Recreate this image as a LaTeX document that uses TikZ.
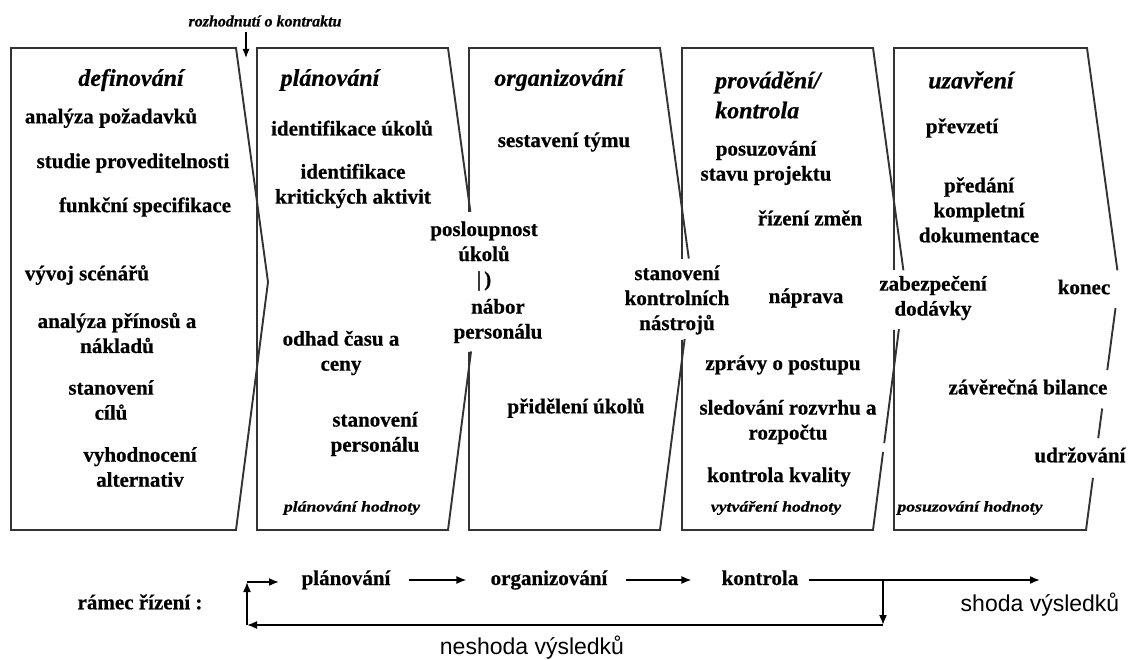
\documentclass[tikz,border=0pt]{standalone}
\usepackage{fontspec}
\usepackage{graphicx}
\setmainfont{Liberation Serif}[BoldFeatures={FakeBold=0.6}, BoldItalicFeatures={FakeBold=0.6}]
\newfontfamily\labelsans{Liberation Sans}
\usetikzlibrary{arrows.meta,calc}

\newcommand{\stretched}[1]{\scalebox{1.18}[1]{#1}}

\begin{document}
\begin{tikzpicture}[x=1pt,y=-1pt,
  edge/.style={line width=1.9pt, draw=black!80, line join=miter},
  item/.style={font=\fontsize{21}{25}\selectfont\bfseries, align=center, inner sep=0pt},
  phase/.style={font=\fontsize{24}{30}\selectfont\bfseries\itshape, inner sep=0pt},
  valuetag/.style={font=\fontsize{15}{18}\selectfont\bfseries\itshape, inner sep=0pt},
  sanslabel/.style={font=\fontsize{23}{27}\selectfont\labelsans, inner sep=0pt},
  flow/.style={line width=1.6pt, -{Latex[length=10pt,width=8pt]}},
]
\useasboundingbox (0,0) rectangle (1128,660);

% ---- phase outlines (chevron right sides; some edges are interrupted by labels)
\draw[edge] (236,48) -- (11,48) -- (11,530) -- (236,530) -- (268,282) -- cycle;

\coordinate (T2) at (448,48);  \coordinate (P2) at (480,282);  \coordinate (B2) at (448,530);
\draw[edge] ($(T2)!0.70!(P2)$) -- (T2) -- (257,48) -- (257,530) -- (B2) -- ($(P2)!0.28!(B2)$);

\coordinate (T3) at (660,48);  \coordinate (P3) at (692,282);  \coordinate (B3) at (660,530);
\draw[edge] ($(T3)!0.90!(P3)$) -- (T3) -- (469,48) -- (469,212);
\draw[edge] (469,352) -- (469,530) -- (B3) -- ($(P3)!0.23!(B3)$);

\coordinate (T4) at (873,48);  \coordinate (P4) at (905,282);  \coordinate (B4) at (873,530);
\draw[edge] ($(T4)!0.95!(P4)$) -- (T4) -- (682,48) -- (682,259);
\draw[edge] (682,340) -- (682,530) -- (B4) -- ($(P4)!0.685!(B4)$);
\draw[edge] ($(P4)!0.19!(B4)$) -- ($(P4)!0.65!(B4)$);

\coordinate (T5) at (1087,48); \coordinate (P5) at (1119,282); \coordinate (B5) at (1086,530);
\draw[edge] ($(T5)!0.95!(P5)$) -- (T5) -- (894,48) -- (894,270);
\draw[edge] (894,330) -- (894,530) -- (B5) -- ($(P5)!0.79!(B5)$);
\draw[edge] ($(P5)!0.105!(B5)$) -- ($(P5)!0.355!(B5)$);
\draw[edge] ($(P5)!0.51!(B5)$) -- ($(P5)!0.63!(B5)$);

% ---- contract decision
\node[valuetag, font=\fontsize{16}{19}\selectfont\bfseries\itshape] (rk) at (265,21) {rozhodnutí o kontraktu};
\coordinate (rkTip) at (246,58);
\draw[line width=1.2pt, -{Latex[length=9pt,width=7pt]}, shorten <=5pt] (rk.south -| rkTip) -- (rkTip);

% ---- phase titles
\node[phase] (t1) at (131,80) {definování};
\node[phase] (t2) at (330,80) {plánování};
\node[phase] (t3) at (559,80) {organizování};
\node[phase, align=left, anchor=west] (t4) at (715,95) {provádění/\\kontrola};
\node[phase] (t5) at (971,80) {uzavření};

% ---- definition phase
\node[item] (a1) at (111,118) {analýza požadavků};
\node[item] (a2) at (133,163) {studie proveditelnosti};
\node[item] (a3) at (145,207) {funkční specifikace};
\node[item] (a4) at (87,275) {vývoj scénářů};
\node[item] (a5) at (117,333) {analýza přínosů a\\nákladů};
\node[item] (a6) at (111,400) {stanovení\\cílů};
\node[item] (a7) at (140,467) {vyhodnocení\\alternativ};

% ---- planning phase
\node[item] (b1) at (352,128) {identifikace úkolů};
\node[item] (b2) at (353,186) {identifikace\\kritických aktivit};
\node[item] (b3) at (484,256) {posloupnost\\úkolů\\|\kern3pt)};
\node[item] (b4) at (498,321) {nábor\\personálu};
\node[item] (b5) at (341,353) {odhad času a\\ceny};
\node[item] (b6) at (375,434) {stanovení\\personálu};
\node[valuetag] (b7) at (352,508) {\stretched{plánování hodnoty}};

% ---- organising phase
\node[item] (c1) at (564,142) {sestavení týmu};
\node[item] (c2) at (677,300) {stanovení\\kontrolních\\nástrojů};
\node[item] (c3) at (576,408) {přidělení úkolů};

% ---- execution / control phase
\node[item] (d1) at (766,163) {posuzování\\stavu projektu};
\node[item] (d2) at (810,218) {řízení změn};
\node[item] (d3) at (806,298) {náprava};
\node[item] (d4) at (783,365) {zprávy o postupu};
\node[item] (d5) at (788,422) {sledování rozvrhu a\\rozpočtu};
\node[item] (d6) at (779,477) {kontrola kvality};
\node[valuetag] (d7) at (776,508) {\stretched{vytváření hodnoty}};
\node[item] (d8) at (933,298) {zabezpečení\\dodávky};

% ---- closing phase
\node[item] (e1) at (962,128) {převzetí};
\node[item] (e2) at (979,210) {předání\\kompletní\\dokumentace};
\node[item] (e3) at (1084,287) {konec};
\node[item] (e4) at (1028,387) {závěrečná bilance};
\node[item] (e5) at (1080,455) {udržování};
\node[valuetag] (e6) at (970,508) {\stretched{posuzování hodnoty}};

% ---- management cycle
\node[item] (f0) at (140,602) {rámec řízení :};
\node[item, anchor=base] (f1) at (346,585) {plánování};
\node[item, anchor=base] (f2) at (549,585) {organizování};
\node[item, anchor=base] (f3) at (760,585) {kontrola};
\node[sanslabel] (g1) at (1040,605) {shoda výsledků};
\node[sanslabel] (g2) at (532,648) {neshoda výsledků};

\coordinate (match) at (1040,580);
\coordinate (split) at (883,580);
\coordinate (down)  at (883,625);
\coordinate (back)  at (247,625);
\coordinate (up)    at (247,582);
\coordinate (restart) at (279,582);

\draw[flow] ([xshift=18pt]f1.east |- split) -- ([xshift=-24pt]f2.west |- split);
\draw[flow] ([xshift=18pt]f2.east |- split) -- ([xshift=-30pt]f3.west |- split);
\draw[flow] ([xshift=10pt]f3.east |- split) -- (match);
\draw[flow] (split) -- (down);
\draw[flow] (down) -- (back);
\draw[flow] (back) -- (up);
\draw[flow] (up) -- (restart);
\end{tikzpicture}
\end{document}
